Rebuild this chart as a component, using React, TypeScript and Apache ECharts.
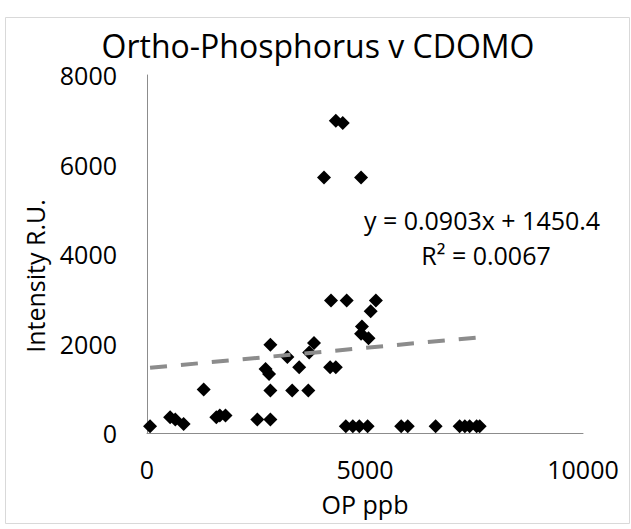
import React, { useEffect, useRef } from "react";
import * as echarts from "echarts";

const opPpb = [
  70, 530, 650, 840, 1300, 1590, 1670, 1800, 2530, 2830, 2830, 3330, 3700, 2830, 2720, 2800,
  3220, 3490, 3830, 3720, 4200, 4330, 4220, 4580, 5250, 5130, 4930, 4910, 5080, 4330, 4490,
  4060, 4910, 4560, 4720, 4870, 5060, 5830, 5980, 6620, 7170, 7290, 7400, 7560, 7630,
];
const intensityRU = [
  150, 350, 300, 200, 970, 350, 390, 390, 300, 300, 950, 950, 950, 1970, 1430, 1320,
  1700, 1470, 2010, 1800, 1470, 1470, 2960, 2960, 2960, 2720, 2380, 2220, 2120, 6980, 6930,
  5710, 5710, 150, 150, 150, 150, 150, 150, 150, 150, 150, 150, 150, 150,
];
const trendSlope = 0.0903;
const trendIntercept = 1450.4;
const equationText = "y = 0.0903x + 1450.4";
const r2Text = "R² = 0.0067";
const chartTitle = "Ortho-Phosphorus v CDOMO";
const xName = "OP ppb";
const yName = "Intensity R.U.";

const FONT = "'Open Sans', 'Noto Sans', sans-serif";

export default function App() {
  const ref = useRef<HTMLDivElement>(null);
  useEffect(() => {
    if (!ref.current) return;
    const chart = echarts.init(ref.current, undefined, { renderer: "svg" });
    const points = opPpb.map((x, i) => [x, intensityRU[i]]);
    const xMin = Math.min(...opPpb);
    const xMax = Math.max(...opPpb);
    const trend = [
      [xMin, trendSlope * xMin + trendIntercept],
      [xMax, trendSlope * xMax + trendIntercept],
    ];
    const plain = (v: number) => String(v);
    chart.setOption({
      animation: false,
      backgroundColor: "#ffffff",
      textStyle: { fontFamily: FONT },
      grid: { left: 147, right: 48, top: 75, bottom: 96 },
      xAxis: {
        type: "value",
        min: 0,
        max: 10000,
        interval: 5000,
        splitLine: { show: false },
        axisTick: { show: false },
        axisLine: { show: true, lineStyle: { color: "#8c8c8c", width: 1 } },
        axisLabel: { color: "#000", fontSize: 25, fontFamily: FONT, margin: 23, formatter: plain },
        name: xName,
        nameLocation: "middle",
        nameGap: 58,
        nameTextStyle: { color: "#000", fontSize: 25, fontFamily: FONT },
      },
      yAxis: {
        type: "value",
        min: 0,
        max: 8000,
        interval: 2000,
        splitLine: { show: false },
        axisTick: { show: false },
        axisLine: { show: true, onZero: false, lineStyle: { color: "#8c8c8c", width: 1 } },
        axisLabel: { color: "#000", fontSize: 25, fontFamily: FONT, margin: 30, formatter: plain },
      },
      graphic: [
        {
          type: "rect",
          shape: { x: 5.5, y: 17.5, width: 624, height: 506 },
          style: { fill: "none", stroke: "#d9d9d9", lineWidth: 1 },
          z: -1,
        },
        {
          type: "text",
          x: 318,
          y: 45,
          style: {
            text: chartTitle,
            fontSize: 32,
            fontFamily: FONT,
            fill: "#000",
            textAlign: "center",
            textVerticalAlign: "middle",
          },
        },
        {
          type: "text",
          x: 35,
          y: 276,
          rotation: Math.PI / 2,
          style: {
            text: yName,
            fontSize: 25,
            fontFamily: FONT,
            fill: "#000",
            textAlign: "center",
            textVerticalAlign: "middle",
          },
        },
        {
          type: "text",
          x: 482,
          y: 220,
          style: {
            text: equationText,
            fontSize: 25,
            fontFamily: FONT,
            fill: "#000",
            textAlign: "center",
            textVerticalAlign: "middle",
          },
        },
        {
          type: "text",
          x: 486,
          y: 255,
          style: {
            text: r2Text,
            fontSize: 25,
            fontFamily: FONT,
            fill: "#000",
            textAlign: "center",
            textVerticalAlign: "middle",
          },
        },
      ],
      series: [
        {
          type: "line",
          data: trend,
          symbol: "none",
          silent: true,
          lineStyle: { color: "#8c8c8c", width: 4, type: [17, 14] },
          z: 3,
        },
        {
          type: "scatter",
          data: points,
          symbol: "diamond",
          symbolSize: 14,
          itemStyle: { color: "#000", opacity: 1 },
          z: 2,
        },
      ],
    });
    return () => chart.dispose();
  }, []);
  return (
    <div
      ref={ref}
      style={{ position: "fixed", left: 0, top: 0, width: 631, height: 529 }}
    />
  );
}
